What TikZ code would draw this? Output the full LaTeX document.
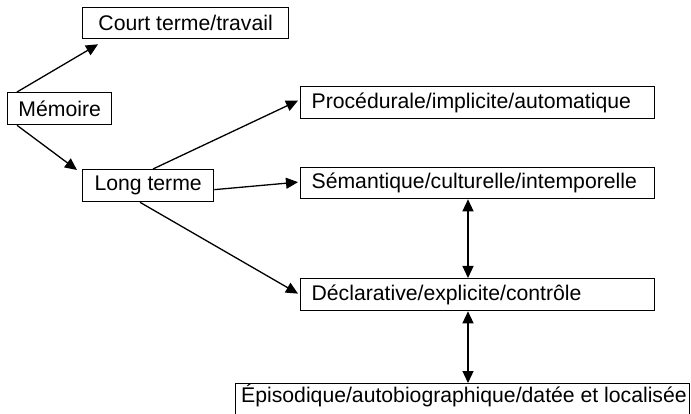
\documentclass[tikz,border=0pt]{standalone}
\usepackage{fontspec}
\setmainfont{Liberation Sans}
\usetikzlibrary{arrows.meta,calc}
\begin{document}
\begin{tikzpicture}[x=1pt,y=-1pt,
  box/.style={draw, line width=1.3pt, anchor=north west, inner sep=0pt,
              minimum height=32pt, font=\fontsize{21.2}{25}\selectfont},
  wide/.style={box, minimum width=354pt, text width=332pt, align=left, inner xsep=11pt},
  arr/.style={line width=1.3pt, -{Triangle[length=12pt,width=11pt]}},
  darr/.style={line width=1.3pt, {Triangle[length=12pt,width=11pt]}-{Triangle[length=12pt,width=11pt]}}]
\useasboundingbox (0,0) rectangle (691,414);
\clip (0,0) rectangle (691,414);
% boxes
\node[box, minimum width=206pt, minimum height=31pt] (court) at (82,7) {Court terme/travail};
\node[box, minimum width=104pt] (mem) at (7,92) {Mémoire};
\node[box, minimum width=131pt] (long) at (82,169) {Long terme};
\node[wide] (proc) at (300,86) {Procédurale/implicite/automatique};
\node[wide, minimum height=31pt] (sem) at (300,167) {Sémantique/culturelle/intemporelle};
\node[wide] (decl) at (300,278) {Déclarative/explicite/contrôle};
\node[box, minimum width=454pt, minimum height=45pt, text depth=0pt] (epi) at (235,383) {};
\node[anchor=west, inner sep=0pt, font=\fontsize{21.2}{25}\selectfont] (epitxt) at ($(epi.north west)+(6,13)$) {Épisodique/autobiographique/datée et localisée};
% connectors
\draw[arr] (mem.north west) ++(10,0) -- ($(court.south west)+(16,5)$);
\draw[arr] (mem.south west) ++(10,0) -- ($(long.north west)+(-5,1)$);
\draw[arr] (long.north west) ++(71,0) -- ($(proc.west)+(-2,-2)$);
\draw[arr] ($(long.east)+(0,4)$) -- ($(sem.west)+(-2,-1)$);
\draw[arr] (long.south west) ++(58,0) -- ($(decl.west)+(-2,-1)$);
\draw[darr] ($(sem.south west)+(168,0)$) -- ($(decl.north west)+(168,0)$);
\draw[darr] ($(decl.south west)+(168,0)$) -- ($(epi.north west)+(233,0)$);
\end{tikzpicture}
\end{document}
